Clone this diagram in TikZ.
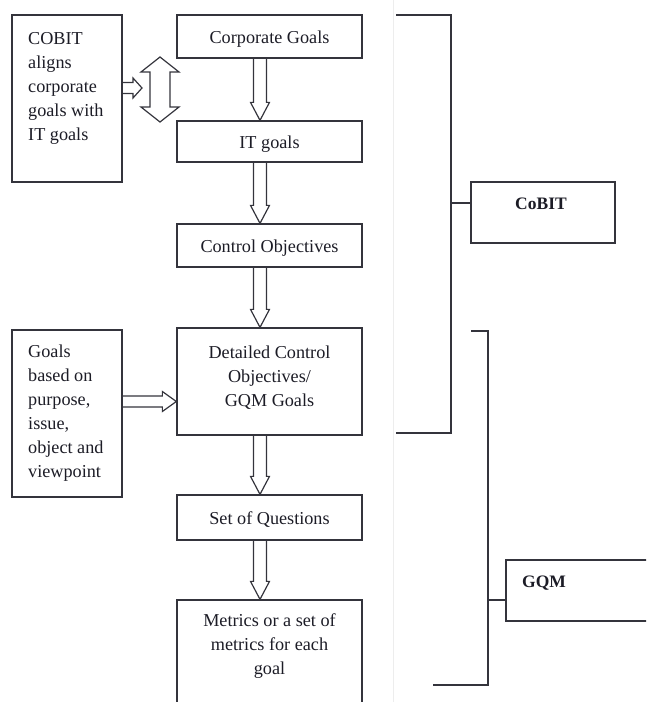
\documentclass[tikz,border=0pt]{standalone}
\usepackage{fontspec}
\setmainfont{Liberation Serif}
\usetikzlibrary{calc}

\definecolor{ink}{RGB}{52,52,60}
\definecolor{txt}{RGB}{28,28,38}

\tikzset{
  mainfont/.style={font=\fontsize{18.2}{24}\selectfont},
  box/.style={draw=ink, line width=1.3pt, inner sep=0pt, text=txt, mainfont},
  flowbox/.style={box, minimum width=185pt, text height=14pt, text depth=0pt},
  txtblock/.style={inner sep=0pt, text=txt, mainfont},
  tag/.style={inner sep=0pt, text=txt, anchor=north west,
    font=\fontsize{17.5}{22}\selectfont\bfseries},
  hollow/.style={draw=ink, line width=1.2pt, line join=miter},
  bracket/.style={draw=ink, line width=1.4pt},
}

% hollow downward arrow at canvas x #1 from the bottom of #2 to the top of #3
\newcommand\vflow[3]{%
  \draw[hollow] let \p1=(#2), \p2=(#3) in
    (#1-6.5pt,\y1) -- (#1-6.5pt,\y2+18pt) -- (#1-9.5pt,\y2+18pt) -- (#1,\y2)
    -- (#1+9.5pt,\y2+18pt) -- (#1+6.5pt,\y2+18pt) -- (#1+6.5pt,\y1);}

% hollow rightward arrow at canvas y #1: from #2 to #3,
% shaft half width #4, head half width #5, head length #6
\newcommand\hflow[6]{%
  \draw[hollow] let \p1=(#2), \p2=(#3) in
    (\x1,#1+#4) -- (\x2-#6,#1+#4) -- (\x2-#6,#1+#5) -- (\x2,#1)
    -- (\x2-#6,#1-#5) -- (\x2-#6,#1-#4) -- (\x1,#1-#4);}

\begin{document}
\begin{tikzpicture}[x=1pt,y=-1pt]
\useasboundingbox (0,0) rectangle (646,702);
\clip (0,0) rectangle (646,702);

% faint seam between the two halves
\draw[black!7, line width=0.8pt] (393,0) -- (393,702);

% ---- main flow ----
\node[flowbox, minimum height=43pt] (cg) at (269.5,36.5) {Corporate Goals};
\node[flowbox, minimum height=41pt] (it) at (269.5,141.5) {IT goals};
\node[flowbox, minimum height=43pt] (co) at (269.5,245.5) {Control Objectives};
\node[box, minimum width=185pt, minimum height=107pt] (dco) at (269.5,381.5) {};
\node[txtblock, align=center, anchor=north] (dcotext) at (269.5,346)
  {Detailed Control\\Objectives/\\GQM Goals};
\node[flowbox, minimum height=45pt] (sq) at (269.5,517.5) {Set of Questions};
\node[box, minimum width=185pt, minimum height=120pt] (met) at (269.5,660) {};
\node[txtblock, align=center, anchor=north] (mettext) at (269.5,613)
  {Metrics or a set of\\metrics for each\\goal};

\vflow{260pt}{cg.south}{it.north}
\vflow{260pt}{it.south}{co.north}
\vflow{260pt}{co.south}{dco.north}
\vflow{260pt}{dco.south}{sq.north}
\vflow{260pt}{sq.south}{met.north}

% ---- side notes ----
\node[box, minimum width=110pt, minimum height=167pt] (cobitnote) at (67,98.5) {};
\node[txtblock, align=left, anchor=north west] (cobittext) at (28,32)
  {COBIT\\aligns\\corporate\\goals with\\IT goals};
\node[box, minimum width=110pt, minimum height=167pt] (goalsnote) at (67,413.5) {};
\node[txtblock, align=left, anchor=north west] (goalstext) at (28,345)
  {Goals\\based on\\purpose,\\issue,\\object and\\viewpoint};

% two-headed alignment arrow
\draw[hollow] (160,57) -- (179,72) -- (170,72) -- (170,107) -- (179,107)
  -- (160,122) -- (141,107) -- (150,107) -- (150,72) -- (141,72) -- cycle;
\coordinate (dblL) at (142,88);

\hflow{-88pt}{cobitnote.east}{dblL}{5.5pt}{10pt}{9pt}
\hflow{-401.5pt}{goalsnote.east}{dco.west}{5.5pt}{10pt}{14pt}

% ---- framework brackets ----
\node[box, minimum width=144pt, minimum height=61pt] (cobitbox) at (543,212.5) {};
\node[tag] (cobitlabel) at (515,197.5) {CoBIT};
\node[box, minimum width=194pt, minimum height=61pt] (gqmbox) at (603,590.5) {};
\node[tag] (gqmlabel) at (522,576) {GQM};

\draw[bracket] (396,15) -- (451,15) -- (451,433) -- (396,433);
\coordinate (t1) at (451,203);
\draw[bracket] (t1) -- (t1 -| cobitbox.west);

\draw[bracket] (471,331) -- (488,331) -- (488,685) -- (433,685);
\coordinate (t2) at (488,600);
\draw[bracket] (t2) -- (t2 -| gqmbox.west);
\end{tikzpicture}
\end{document}
